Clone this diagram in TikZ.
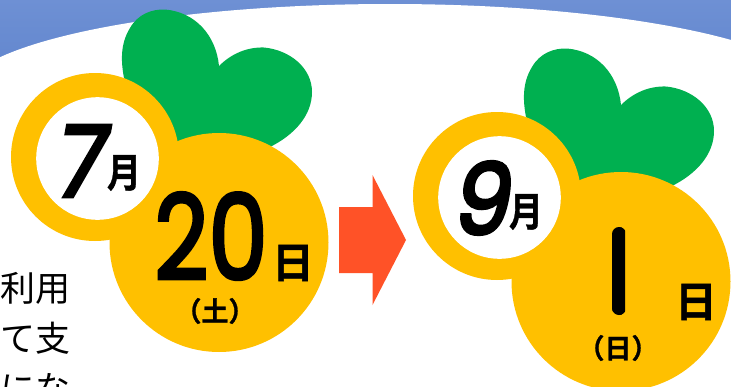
\documentclass[tikz,border=0pt]{standalone}
\usepackage{fontspec}
\setmainfont{Noto Sans CJK JP}
\newfontfamily\cjk{Noto Sans CJK JP}
\newfontfamily\cjkb{Noto Sans CJK JP}[BoldFont={Noto Sans CJK JP Bold},BoldFeatures={FakeBold=1}]
\newfontfamily\dig{Poppins}[BoldFont={Poppins},BoldFeatures={FakeBold=4}]
\newfontfamily\digb{Poppins}[BoldFont={Poppins},BoldFeatures={FakeBold=3}]
\definecolor{leaf}{HTML}{00B050}
\definecolor{gold}{HTML}{FFC000}
\definecolor{band}{HTML}{6E90D4}
\definecolor{bandlow}{HTML}{6488CF}
\definecolor{redo}{HTML}{FF5227}
\tikzset{
  x=1pt,y=-1pt,
  gold disc/.style={fill=gold,draw=none},
  kan/.style={inner sep=0,transform shape},
  num/.style={inner sep=0,transform shape},
  body/.style={inner sep=0,font=\cjk\fontsize{35}{35}\selectfont,anchor=east},
  pics/turnip/.style={code={
    \fill[leaf] (124,78) .. controls (121,62) and (120,44) .. (130,28)
      .. controls (138,14) and (152,9) .. (165,9.5)
      .. controls (195,12) and (216,35) .. (219,66)
      .. controls (232,53) and (248,47) .. (264,47.5)
      .. controls (290,50) and (312,68) .. (312,92)
      .. controls (312,115) and (295,135) .. (268,148) -- (180,160) -- cycle;
    \fill[gold disc] (219,242.5) circle[radius=109.5];
    \fill[gold disc] (95,157) circle[radius=84];
    \fill[white] (97.5,158.5) circle[radius=61.3];
  }}
}
\begin{document}
\begin{tikzpicture}
\useasboundingbox (0,0) rectangle (731,386);
\clip (0,0) rectangle (731,386);
\fill[top color=band,bottom color=bandlow] (0,0) rectangle (731,60);
\fill[white] (390,96) ellipse[x radius=430,y radius=92];
\fill[white] (0,60) rectangle (731,386);
\node[body] (l1) at (71,288) {利用};
\node[body] (l2) at (71,338) {て支};
\node[body] (l3) at (71,388) {にな};
\pic {turnip};
\pic[shift={(402,39)}] {turnip};
\fill[redo] (339,207) -- (372.5,207) -- (372.5,175) -- (406,240) -- (372.5,305) -- (372.5,273) -- (339,273) -- cycle;
% left date
\node[num,xslant=.18,xscale=.92,font=\dig\bfseries\fontsize{98}{98}\selectfont] (m1) at (83,161) {7};
\node[kan,xscale=.85,font=\cjkb\bfseries\fontsize{40}{40}\selectfont] (mk1) at (124,173) {月};
\node[num,xscale=.8,font=\digb\bfseries\fontsize{118}{118}\selectfont] (d1) at (211,236) {20};
\node[kan,font=\cjkb\bfseries\fontsize{42}{42}\selectfont] (dk1) at (293,263) {日};
\node[kan,font=\cjkb\bfseries\fontsize{27}{27}\selectfont] (w1) at (215,311) {（土）};
% right date
\node[num,xslant=.18,xscale=.92,font=\dig\bfseries\fontsize{98}{98}\selectfont] (m2) at (485,198) {9};
\node[kan,xscale=.85,font=\cjkb\bfseries\fontsize{40}{40}\selectfont] (mk2) at (526,212) {月};
\begin{scope}
\clip[rounded corners=7] (612,227) rectangle (626,315);
\node[inner sep=0,font=\dig\bfseries\fontsize{128}{128}\selectfont] (d2) at (614,271) {1};
\end{scope}
\node[kan,font=\cjkb\bfseries\fontsize{42}{42}\selectfont] (dk2) at (696,302) {日};
\node[kan,font=\cjkb\bfseries\fontsize{27}{27}\selectfont] (w2) at (618,348) {（日）};
\end{tikzpicture}
\end{document}
